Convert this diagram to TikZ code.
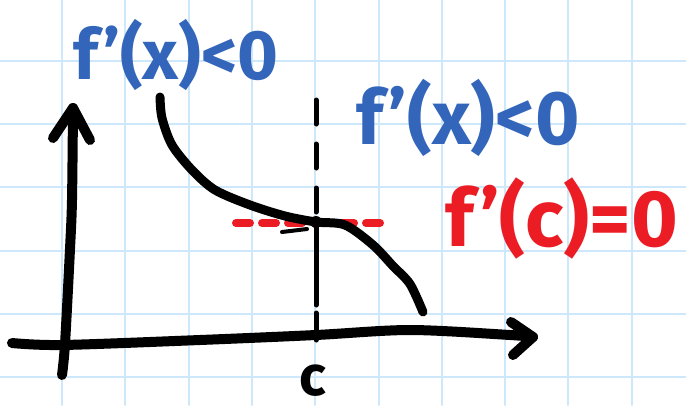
\documentclass[tikz,border=0pt]{standalone}
\usepackage{fontspec}
\setmainfont{Fira Sans}
\begin{document}
\begin{tikzpicture}[x=1pt,y=-1pt,line cap=round,line join=round,
  gridline/.style={draw={rgb,255:red,205;green,232;blue,250},line width=2pt},
  ink/.style={draw=black,line width=10pt},
  lbl/.style={inner sep=0pt,font=\bfseries},
  blueink/.style={text={rgb,255:red,51;green,102;blue,187}},
  redink/.style={text={rgb,255:red,236;green,28;blue,36}}]
\useasboundingbox (0,0) rectangle (686,405);
\fill[white] (0,0) rectangle (686,405);
% grid
\foreach \i in {-1,...,10} \draw[gridline] ({62+63.3*\i},0) -- ({62+63.3*\i},405);
\foreach \j in {-1,...,6} \draw[gridline] (0,{61+63.2*\j}) -- (686,{61+63.2*\j});
% named points
\coordinate (ytip) at (73,108);
\coordinate (xtip) at (533,337);
\coordinate (P) at (316,222);
% y axis
\draw[ink] plot[smooth] coordinates {(62,375) (65,344) (70,249) (72,200) (ytip)};
\draw[ink] (53,138) -- (ytip) -- (90,140);
% x axis
\draw[ink] plot[smooth] coordinates {(12,343) (62,345) (200,340) (316,335) (410,330) (510,335) (xtip)};
\draw[ink] (511,322) -- (xtip) -- (513,355);
% dashed vertical
\draw[black,line width=5pt,dash pattern=on 24pt off 20pt] (316,100) -- (P);
\draw[black,line width=5pt] (P) -- (316,305);
\draw[black,line width=5pt] (316,313) -- (316,340);
% red tangent
\draw[draw={rgb,255:red,236;green,28;blue,36},line width=8pt,dash pattern=on 14pt off 12pt] (236,223) -- (386,223);
% curve
\draw[black,line width=9pt] plot[smooth] coordinates {(160,97) (162,118) (172,145) (192,170) (215,190) (250,205) (285,216) (P) (345,225) (373,245) (393,266) (410,284) (423,312)};
\draw[black,line width=4pt] (282,232) -- (307,229);
\fill[black] (P) circle (6pt);
% labels
\node[lbl,blueink,font=\fontsize{70}{70}\selectfont\bfseries] (t1) at (176,55) {f'(x)<0};
\node[lbl,blueink,font=\fontsize{76}{76}\selectfont\bfseries] (t2) at (468,118) {f'(x)<0};
\node[lbl,redink,font=\fontsize{80}{80}\selectfont\bfseries] (t3) at (562,218) {f'(c)=0};
\node[lbl,text=black,font=\fontsize{56}{56}\selectfont\bfseries] (c) at (313,381) {c};
\end{tikzpicture}
\end{document}
